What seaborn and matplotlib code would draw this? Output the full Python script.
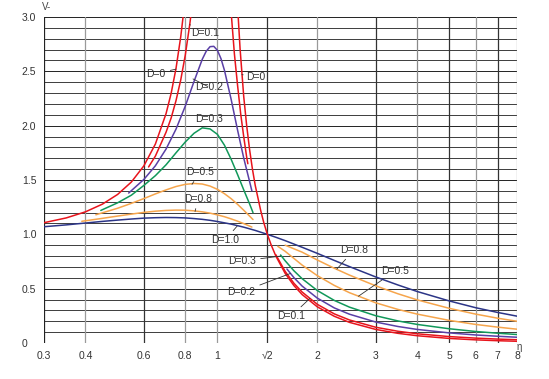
import matplotlib
matplotlib.use("Agg")
import matplotlib.pyplot as plt
import numpy as np
import pandas as pd
import seaborn as sns

# ------------------------------------------------------------------
# data (eta = frequency ratio, V = ratio value)
# ------------------------------------------------------------------
eta_d0_left = [0.30, 0.35, 0.40, 0.45, 0.50, 0.55, 0.60, 0.65, 0.70, 0.725, 0.75, 0.775, 0.79]
v_d0_left = [1.107, 1.151, 1.207, 1.278, 1.367, 1.481, 1.630, 1.831, 2.111, 2.296, 2.526, 2.817, 3.032]
eta_d0_right = [1.15, 1.17, 1.20, 1.225, 1.25, 1.275, 1.30, 1.35, 1.38, 1.414, 1.45, 1.5, 1.6, 1.7,
                1.8, 2.0, 2.25, 2.5, 3.0, 3.5, 4, 5, 6, 7, 8]
v_d0_right = [3.10, 2.71, 2.27, 2.00, 1.78, 1.60, 1.45, 1.22, 1.106, 1.00, 0.907, 0.80, 0.641, 0.529,
              0.446, 0.333, 0.246, 0.190, 0.125, 0.089, 0.067, 0.042, 0.029, 0.021, 0.016]

eta_d01_left = [0.62, 0.65, 0.70, 0.725, 0.75, 0.775, 0.80, 0.825, 0.84]
v_d01_left = [1.62, 1.72, 1.94, 2.07, 2.23, 2.42, 2.65, 2.93, 3.12]
eta_d01_mid = [1.10, 1.125, 1.15, 1.175, 1.20, 1.225, 1.235]
v_d01_mid = [3.04, 2.66, 2.37, 2.11, 1.90, 1.71, 1.65]
eta_d01_right = [1.5, 1.6, 1.7, 1.8, 2.0, 2.25, 2.5, 3, 3.5, 4, 5, 6, 7, 8]
v_d01_right = [0.812, 0.659, 0.550, 0.469, 0.356, 0.268, 0.212, 0.145, 0.108, 0.085, 0.059, 0.045, 0.036, 0.030]

eta_d02_left = [0.54, 0.60, 0.65, 0.70, 0.75, 0.80, 0.85, 0.90, 0.925, 0.95, 0.975, 1.0, 1.025, 1.05,
                1.10, 1.15, 1.20, 1.25, 1.27]
v_d02_left = [1.38, 1.505, 1.631, 1.785, 1.968, 2.18, 2.407, 2.611, 2.685, 2.727, 2.73, 2.693, 2.616, 2.509,
              2.241, 1.959, 1.703, 1.486, 1.40]
eta_d02_right = [1.62, 1.7, 1.8, 2.0, 2.25, 2.5, 3, 3.5, 4, 5, 6, 7, 8]
v_d02_right = [0.681, 0.602, 0.524, 0.413, 0.323, 0.265, 0.193, 0.152, 0.125, 0.093, 0.074, 0.062, 0.053]

eta_d03_left = [0.445, 0.50, 0.55, 0.60, 0.65, 0.70, 0.75, 0.80, 0.85, 0.90, 0.95, 1.0, 1.05, 1.10,
                1.15, 1.20, 1.25, 1.28]
v_d03_left = [1.22, 1.29, 1.36, 1.45, 1.54, 1.64, 1.75, 1.85, 1.93, 1.98, 1.97, 1.92, 1.82, 1.69,
              1.55, 1.41, 1.28, 1.20]
eta_d03_right = [1.55, 1.6, 1.7, 1.8, 2.0, 2.25, 2.5, 3, 3.5, 4, 5, 6, 7, 8]
v_d03_right = [0.81, 0.757, 0.665, 0.592, 0.483, 0.392, 0.330, 0.251, 0.203, 0.171, 0.131, 0.106, 0.090, 0.078]

eta_d05_left = [0.43, 0.50, 0.55, 0.60, 0.65, 0.70, 0.75, 0.80, 0.85, 0.90, 0.95, 1.0, 1.05, 1.10,
                1.15, 1.20, 1.25, 1.28]
v_d05_left = [1.18, 1.24, 1.285, 1.329, 1.372, 1.409, 1.44, 1.46, 1.468, 1.463, 1.444, 1.414, 1.374, 1.328,
              1.276, 1.222, 1.168, 1.136]
eta_d05_right = [1.52, 1.6, 1.8, 2.0, 2.25, 2.5, 3, 3.5, 4, 5, 6, 7, 8]
v_d05_right = [0.89, 0.844, 0.717, 0.62, 0.53, 0.463, 0.37, 0.309, 0.266, 0.208, 0.171, 0.146, 0.127]

eta_d08_left = [0.39, 0.45, 0.50, 0.55, 0.60, 0.65, 0.70, 0.75, 0.80, 0.85, 0.90, 0.95, 1.0, 1.05,
                1.10, 1.15, 1.20, 1.27]
v_d08_left = [1.12, 1.147, 1.168, 1.186, 1.202, 1.213, 1.22, 1.223, 1.222, 1.216, 1.207, 1.195, 1.179, 1.162,
              1.142, 1.121, 1.099, 1.067]
eta_d08_right = [1.6, 1.8, 2.0, 2.25, 2.5, 3, 3.5, 4, 5, 6, 7, 8]
v_d08_right = [0.90, 0.836, 0.764, 0.688, 0.625, 0.526, 0.453, 0.397, 0.319, 0.266, 0.228, 0.200]

eta_d10 = [0.30, 0.35, 0.40, 0.45, 0.50, 0.55, 0.60, 0.65, 0.70, 0.75, 0.80, 0.85, 0.90, 0.95, 1.0,
           1.1, 1.2, 1.3, 1.414, 1.5, 1.6, 1.8, 2.0, 2.25, 2.5, 3, 3.5, 4, 5, 6, 7, 8]
v_d10 = [1.07, 1.087, 1.104, 1.119, 1.131, 1.141, 1.149, 1.153, 1.155, 1.154, 1.151, 1.145, 1.138, 1.129, 1.118,
         1.094, 1.066, 1.036, 1.0, 0.973, 0.942, 0.881, 0.825, 0.760, 0.703, 0.608, 0.534, 0.474, 0.387, 0.325,
         0.281, 0.247]

x_ticks = [0.3, 0.4, 0.6, 0.8, 1, 2 ** 0.5, 2, 3, 4, 5, 6, 7, 8]
x_tick_labels = ["0.3", "0.4", "0.6", "0.8", "1", "√2", "2", "3", "4", "5", "6", "7", "8"]
y_ticks = [0, 0.5, 1.0, 1.5, 2.0, 2.5, 3.0]
y_tick_labels = ["0", "0.5", "1.0", "1.5", "2.0", "2.5", "3.0"]

RED, PURPLE, GREEN, ORANGE, NAVY = "#e8141c", "#5a3fa6", "#11985a", "#f6a54c", "#2c3587"

segments = [
    ("d10", eta_d10, v_d10, NAVY),
    ("d08l", eta_d08_left, v_d08_left, ORANGE),
    ("d08r", eta_d08_right, v_d08_right, ORANGE),
    ("d05l", eta_d05_left, v_d05_left, ORANGE),
    ("d05r", eta_d05_right, v_d05_right, ORANGE),
    ("d03l", eta_d03_left, v_d03_left, GREEN),
    ("d03r", eta_d03_right, v_d03_right, GREEN),
    ("d02l", eta_d02_left, v_d02_left, PURPLE),
    ("d02r", eta_d02_right, v_d02_right, PURPLE),
    ("d01l", eta_d01_left, v_d01_left, RED),
    ("d01m", eta_d01_mid, v_d01_mid, RED),
    ("d01r", eta_d01_right, v_d01_right, RED),
    ("d0l", eta_d0_left, v_d0_left, RED),
    ("d0r", eta_d0_right, v_d0_right, RED),
]

df = pd.concat(
    [pd.DataFrame({"eta": e, "V": v, "seg": name}) for name, e, v, _ in segments],
    ignore_index=True,
)
palette = {name: c for name, _, _, c in segments}

sns.set_style("white")
plt.rcParams["font.family"] = ["Liberation Sans", "DejaVu Sans"]

fig = plt.figure(figsize=(5.49, 3.79), dpi=100)
ax = fig.add_axes([44 / 549, 36 / 379, 473 / 549, 326 / 379])
ax.set_xscale("log")
ax.set_xlim(0.3, 8)
ax.set_ylim(0, 3)

# grid drawn by hand to get the mixed dark / light lines
for i, y in enumerate(np.arange(0, 3.01, 0.1)):
    ax.axhline(y, color="#3c3c3c" if i % 5 else "#222222", lw=0.7, zorder=1)
v_colors = ["#222222", "#9a9a9a", "#333333", "#9a9a9a", "#9a9a9a", "#333333", "#9a9a9a",
            "#333333", "#8a8a8a", "#333333", "#9a9a9a", "#333333", "#9a9a9a"]
for xv, c in zip(x_ticks, v_colors):
    ax.axvline(xv, color=c, lw=0.9, zorder=1)

sns.lineplot(data=df, x="eta", y="V", hue="seg", palette=palette, units="seg",
             estimator=None, sort=False, legend=False, lw=1.1, ax=ax, zorder=3)

for s in ax.spines.values():
    s.set_visible(False)

ax.set_xticks(x_ticks)
ax.set_xticklabels(x_tick_labels)
ax.xaxis.set_minor_locator(matplotlib.ticker.NullLocator())
ax.set_yticks(y_ticks)
ax.set_yticklabels(y_tick_labels)
for lab in ax.get_yticklabels():
    lab.set_horizontalalignment("left")
ax.tick_params(axis="y", length=0, pad=16, labelsize=7.5, labelcolor="#333333")
ax.tick_params(axis="x", length=0, pad=6, labelsize=7.5, labelcolor="#333333")
ax.set_xlabel("")
ax.set_ylabel("")

fig.text(42 / 549, 1 - 7 / 379, "V-", fontsize=7, color="#444444", va="center", ha="left")
fig.text(519 / 549, 1 - 347 / 379, "η", fontsize=7, color="#444444", va="center", ha="center")

# curve labels with leader lines
labels = [
    ("D=0.1", (0.825, 2.93), (0.918, 2.85)),
    ("D=0", (0.75, 2.52), (0.653, 2.48)),
    ("D=0.2", (0.844, 2.43), (0.943, 2.355)),
    ("D=0", (1.185, 2.47), (1.308, 2.447)),
    ("D=0.3", None, (0.943, 2.06)),
    ("D=0.5", (0.838, 1.46), (0.886, 1.573)),
    ("D=0.8", (0.856, 1.21), (0.874, 1.325)),
    ("D=1.0", (1.146, 1.075), (1.054, 0.948)),
    ("D=0.3", (1.55, 0.80), (1.187, 0.754)),
    ("D=0.2", (1.66, 0.64), (1.18, 0.469)),
    ("D=0.1", (1.9, 0.41), (1.668, 0.248)),
    ("D=0.8", (2.29, 0.68), (2.58, 0.856)),
    ("D=0.5", (2.66, 0.43), (3.43, 0.662)),
]
for txt, xy, xyt in labels:
    if xy is None:
        ax.text(xyt[0], xyt[1], txt, fontsize=7.5, color="#333333", ha="center", va="center", zorder=5)
    else:
        ax.annotate(txt, xy=xy, xytext=xyt, fontsize=7.5, color="#333333", ha="center", va="center",
                    arrowprops=dict(arrowstyle="-", lw=0.6, color="#333333", shrinkA=1, shrinkB=0),
                    zorder=5)

fig.savefig("out.png", dpi=100)
